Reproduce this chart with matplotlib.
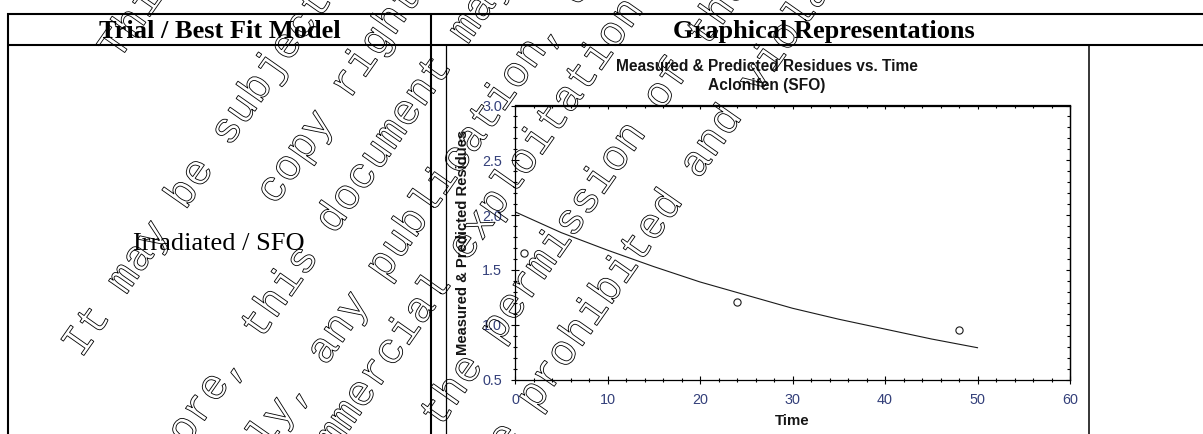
import matplotlib
matplotlib.use("Agg")
import matplotlib.pyplot as plt
from matplotlib.ticker import MultipleLocator, FormatStrFormatter, NullFormatter
from matplotlib.textpath import TextPath
from matplotlib.patches import PathPatch
from matplotlib.font_manager import FontProperties
from matplotlib.transforms import Affine2D

# ---- data -------------------------------------------------------------
col_headers = ["Trial / Best Fit Model", "Graphical Representations"]
trial_label = "Irradiated / SFO"
chart_title = ["Measured & Predicted Residues vs. Time", "Aclonifen (SFO)"]
x_label = "Time"
y_label = "Measured & Predicted Residues"

measured_time = [1, 24, 48]
measured_residue = [1.65, 1.21, 0.95]

predicted_time = [0, 5, 10, 15, 20, 25, 30, 35, 40, 45, 50]
predicted_residue = [2.03, 1.84, 1.68, 1.53, 1.39, 1.27, 1.15, 1.05, 0.96, 0.87, 0.79]

x_ticks = [0, 10, 20, 30, 40, 50, 60]
y_ticks = [0.5, 1.0, 1.5, 2.0, 2.5, 3.0]

notice_lines = [
    "This document is copyright protected.",
    "It may be subject to rights such as intellectual property and",
    "copy rights of the owner and third parties.",
    "Furthermore, this document may fall under a regulatory data",
    "Consequently, any publication, distribution, reproduction",
    "and any commercial exploitation and use of this document",
    "contents without the permission of the owner of this document",
    "may therefore be prohibited and violate the rights of its owner.",
]

# ---- figure -----------------------------------------------------------
W, H = 1203, 434
fig = plt.figure(figsize=(W / 100, H / 100), dpi=100)
fig.patch.set_facecolor("white")

SERIF = "Liberation Serif"
SANS = "Liberation Sans"

# page layer in pixel coordinates (y grows downward)
bg = fig.add_axes([0, 0, 1, 1], zorder=0)
bg.set_xlim(0, W)
bg.set_ylim(H, 0)
bg.axis("off")

# table rules
rule = dict(color="black", lw=1.5, solid_capstyle="butt")
bg.plot([7, W], [13.5, 13.5], **rule)
bg.plot([7, W], [44.5, 44.5], **rule)
bg.plot([8, 8], [13, H], **rule)
bg.plot([431, 431], [13, H], **rule)
# frame of the embedded graph
bg.plot([445.5, 445.5], [45, H], color="black", lw=0.9)
bg.plot([1089, 1089], [45, H], color="black", lw=1.1)

bg.text(219.5, 38.3, col_headers[0], family=SERIF, weight="bold", fontsize=19,
        ha="center", va="baseline")
bg.text(823.5, 38.3, col_headers[1], family=SERIF, weight="bold", fontsize=19,
        ha="center", va="baseline")
bg.text(219, 250.5, trial_label, family=SERIF, fontsize=19, ha="center", va="baseline")

# graph captions
title_color = "#151515"
bg.text(767, 71, chart_title[0], family=SANS, weight="bold", fontsize=11.2,
        color=title_color, ha="center", va="baseline")
bg.text(767, 90, chart_title[1], family=SANS, weight="bold", fontsize=11.2,
        color=title_color, ha="center", va="baseline")
bg.text(792, 425, x_label, family=SANS, weight="bold", fontsize=10.8,
        color=title_color, ha="center", va="baseline")
bg.text(463, 242, y_label, family=SANS, weight="bold", fontsize=10.6,
        color=title_color, ha="center", va="center", rotation=90)

# ---- plot area --------------------------------------------------------
left, right, top, bottom = 515, 1070, 105.5, 379.5
ax = fig.add_axes([left / W, 1 - bottom / H, (right - left) / W, (bottom - top) / H], zorder=2)
ax.set_facecolor("white")

ax.plot(predicted_time, predicted_residue, color="#1a1a1a", lw=0.8)
ax.plot(measured_time, measured_residue, ls="none", marker="o", ms=5.2,
        mfc="none", mec="#1a1a1a", mew=0.8)

ax.set_xlim(0, 60)
ax.set_ylim(0.5, 3.0)
ax.set_xticks(x_ticks)
ax.set_yticks(y_ticks)
ax.xaxis.set_minor_locator(MultipleLocator(2))
ax.yaxis.set_minor_locator(MultipleLocator(0.1))
ax.yaxis.set_major_formatter(FormatStrFormatter("%.1f"))

for s in ax.spines.values():
    s.set_linewidth(0.9)
    s.set_color("black")

tick_color = "#34407a"
ax.tick_params(which="major", direction="inout", length=5.5, width=0.8,
               top=False, right=False, labelsize=10.4, labelcolor=tick_color, pad=6.7)
ax.tick_params(which="minor", direction="inout", length=3.4, width=0.8,
               top=False, right=False)
for lab in ax.get_xticklabels() + ax.get_yticklabels():
    lab.set_family(SANS)

sec_x = ax.secondary_xaxis("top")
sec_x.set_xticks(x_ticks)
sec_x.xaxis.set_minor_locator(MultipleLocator(2))
sec_x.xaxis.set_major_formatter(NullFormatter())
sec_x.tick_params(which="major", direction="in", length=3.0, width=0.8)
sec_x.tick_params(which="minor", direction="in", length=2.2, width=0.8)
sec_x.spines["top"].set_linewidth(0.9)

sec_y = ax.secondary_yaxis("right")
sec_y.set_yticks(y_ticks)
sec_y.yaxis.set_minor_locator(MultipleLocator(0.1))
sec_y.yaxis.set_major_formatter(NullFormatter())
sec_y.tick_params(which="major", direction="in", length=3.0, width=0.8)
sec_y.tick_params(which="minor", direction="in", length=2.0, width=0.8)
sec_y.spines["right"].set_linewidth(0.9)

# ---- outlined diagonal notice over the page ---------------------------
ov = fig.add_axes([0, 0, 1, 1], zorder=10)
ov.set_xlim(0, W)
ov.set_ylim(0, H)
ov.axis("off")
ov.patch.set_alpha(0)

mono = FontProperties(family="Liberation Mono")
EM = 43.0
ADV = 0.6 * EM
ANGLE = 55

# (line index, character position of the anchor, anchor x, anchor y from top)
anchors = [
    (0, 0.5, 116, 44),
    (1, 8.0, 190, 183),
    (2, 2.0, 295, 157),
    (3, 15.0, 280, 292),
    (4, 15.5, 338, 328),
    (5, 15.5, 405, 330),
    (6, 26.0, 563, 232),
    (7, 22.0, 600, 300),
]
for idx, u, px, py in anchors:
    tp = TextPath((0, 0), notice_lines[idx], size=EM, prop=mono)
    tr = (Affine2D().translate(-u * ADV, -0.28 * EM)
          .rotate_deg(ANGLE).translate(px, H - py))
    ov.add_patch(PathPatch(tr.transform_path(tp), fc="none", ec="black", lw=0.6))

fig.savefig("out.png", dpi=100, facecolor="white")
